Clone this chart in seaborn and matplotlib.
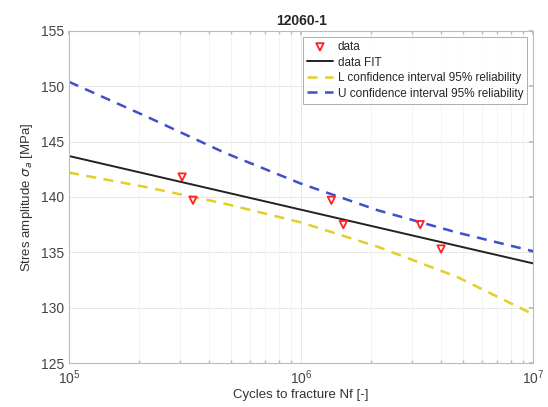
import numpy as np
import pandas as pd
import matplotlib
matplotlib.use("Agg")
import matplotlib.pyplot as plt
import seaborn as sns
from matplotlib.ticker import LogLocator, LogFormatterMathtext

# measured points
cycles = [3.07e5, 3.42e5, 1.35e6, 1.52e6, 3.26e6, 4.01e6]
stress = [141.8, 139.7, 139.7, 137.5, 137.5, 135.3]

# fitted line (log-linear)
fit_x = [1e5, 1e7]
fit_y = [143.7, 134.0]

# confidence bands
ci_x = [1e5, 2.14e5, 4.68e5, 1e6, 2.14e6, 4.68e6, 1e7]
lower_ci = [142.2, 140.9, 139.4, 137.7, 135.5, 132.8, 129.4]
upper_ci = [150.4, 147.3, 144.0, 141.2, 138.8, 136.8, 135.1]

sns.set_theme(style="white")
plt.rcParams['font.family'] = ['Liberation Sans', 'DejaVu Sans']

fig = plt.figure(figsize=(5.48, 4.07), dpi=100)
ax = fig.add_axes([0.126, 0.108, 0.847, 0.816])

sns.scatterplot(x=cycles, y=stress, ax=ax, marker='v', s=28,
                facecolor='none', edgecolor='#ff2020', linewidth=1.3,
                label='data', zorder=5)
sns.lineplot(x=fit_x, y=fit_y, ax=ax, color='#222222', linewidth=1.4,
             label='data FIT')
sns.lineplot(x=ci_x, y=lower_ci, ax=ax, color='#e0d028', linewidth=1.8,
             linestyle=(0, (4, 3)), label='L confidence interval 95% reliability')
sns.lineplot(x=ci_x, y=upper_ci, ax=ax, color='#3f4fcc', linewidth=1.8,
             linestyle=(0, (4, 3)), label='U confidence interval 95% reliability')

ax.set_xscale('log')
ax.set_xlim(1e5, 1e7)
ax.set_ylim(125, 155)
ax.set_yticks(np.arange(125, 156, 5))
ax.xaxis.set_major_locator(LogLocator(base=10, numticks=5))
ax.xaxis.set_major_formatter(LogFormatterMathtext())
ax.xaxis.set_minor_locator(LogLocator(base=10, subs=np.arange(2, 10), numticks=20))

ax.grid(True, which='major', color='#e8e8e8', linewidth=0.7)
ax.grid(True, which='minor', axis='x', color='#f3f3f3', linewidth=0.6)
ax.tick_params(which='both', direction='in', top=True, right=True,
               color='#bbbbbb', labelcolor='#444444', labelsize=10)
ax.tick_params(which='major', length=3)
ax.tick_params(which='minor', length=2, bottom=True, top=True)
for sp in ax.spines.values():
    sp.set_color('#bbbbbb')
    sp.set_linewidth(0.8)

ax.set_title('12060-1', fontsize=10, fontweight='bold', pad=4)
ax.set_xlabel('Cycles to fracture Nf [-]', fontsize=9.5, color='#333333', labelpad=2)
ax.set_ylabel(r'Stres amplitude $\sigma_a$ [MPa]', fontsize=9.5, color='#333333', labelpad=4)

leg = ax.legend(loc='upper right', fontsize=8.5, frameon=True, fancybox=False,
                edgecolor='#999999', borderpad=0.35, labelspacing=0.3,
                handlelength=2.2, handletextpad=0.4, borderaxespad=0.5)
leg.get_frame().set_linewidth(0.7)

fig.savefig('out.png', dpi=100, facecolor='white')
